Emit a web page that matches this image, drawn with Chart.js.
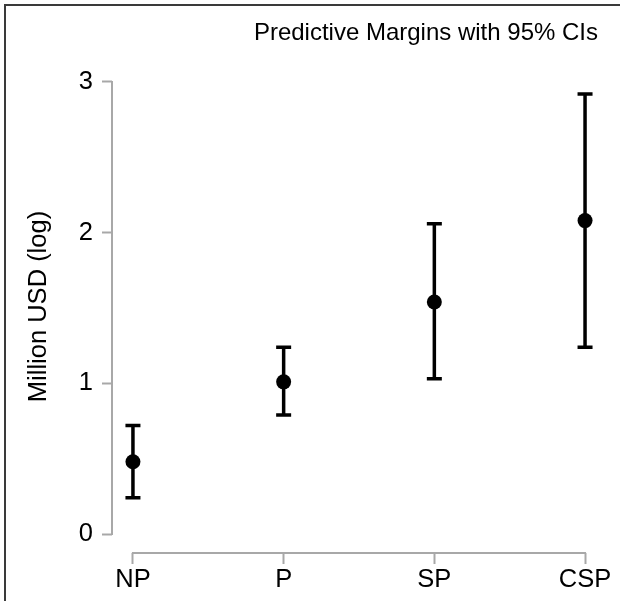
<!DOCTYPE html>
<html>
<head>
<meta charset="utf-8">
<script src="https://cdn.jsdelivr.net/npm/chart.js@4/dist/chart.umd.min.js"></script>
<style>
  html, body { margin: 0; padding: 0; background: #fff; }
  #wrap { width: 620px; height: 601px; position: relative; }
</style>
</head>
<body>
<div id="wrap"><canvas id="chart"></canvas></div>
<script>
// Predictive margins (log million USD) with 95% confidence intervals
const categories = ["NP", "P", "SP", "CSP"]
const margins = [0.48, 1.01, 1.54, 2.08]
const ciLower = [0.24, 0.79, 1.03, 1.24]
const ciUpper = [0.72, 1.24, 2.06, 2.92]
const yTicks = [0, 1, 2, 3]

const FONT = "'Liberation Sans', Arial, sans-serif"
const AXIS_COLOR = "#a8a8a8"
const INK = "#000"
const CAP_HALF = 7.5

// Stata-style axis lines: only span the tick range, not the whole plot box.
const axisLinesPlugin = {
  id: "axisLines",
  beforeDatasetsDraw(chart) {
    const { ctx, chartArea, scales } = chart
    ctx.save()
    ctx.strokeStyle = AXIS_COLOR
    ctx.lineWidth = 2
    ctx.lineCap = "square"
    ctx.beginPath()
    ctx.moveTo(chartArea.left, scales.y.getPixelForValue(yTicks[0]))
    ctx.lineTo(chartArea.left, scales.y.getPixelForValue(yTicks[yTicks.length - 1]))
    ctx.moveTo(scales.x.getPixelForValue(0), chartArea.bottom)
    ctx.lineTo(scales.x.getPixelForValue(categories.length - 1), chartArea.bottom)
    ctx.stroke()
    ctx.restore()
  }
}

// Capped vertical CI bars, drawn under the point markers.
const errorBarsPlugin = {
  id: "errorBars",
  beforeDatasetsDraw(chart) {
    const { ctx, scales } = chart
    ctx.save()
    ctx.strokeStyle = INK
    ctx.lineWidth = 3.5
    categories.forEach((_, i) => {
      const px = scales.x.getPixelForValue(i)
      const lo = scales.y.getPixelForValue(ciLower[i])
      const hi = scales.y.getPixelForValue(ciUpper[i])
      ctx.beginPath()
      ctx.moveTo(px, lo)
      ctx.lineTo(px, hi)
      ctx.moveTo(px - CAP_HALF, lo)
      ctx.lineTo(px + CAP_HALF, lo)
      ctx.moveTo(px - CAP_HALF, hi)
      ctx.lineTo(px + CAP_HALF, hi)
      ctx.stroke()
    })
    ctx.restore()
  }
}

// Outer frame (left and top edges of the graph region)
const framePlugin = {
  id: "frame",
  beforeDraw(chart) {
    const { ctx, width, height } = chart
    ctx.save()
    ctx.fillStyle = "#fff"
    ctx.fillRect(0, 0, width, height)
    ctx.strokeStyle = "#3a3a3a"
    ctx.lineWidth = 2
    ctx.beginPath()
    ctx.moveTo(5, height)
    ctx.lineTo(5, 5)
    ctx.lineTo(width, 5)
    ctx.stroke()
    ctx.restore()
  }
}

const TICK_GRID = {
  display: true,
  drawOnChartArea: false,
  drawTicks: true,
  tickLength: 11,
  tickWidth: 2,
  tickColor: AXIS_COLOR
}

new Chart(document.getElementById("chart"), {
  type: "scatter",
  plugins: [framePlugin, axisLinesPlugin, errorBarsPlugin],
  data: {
    datasets: [{
      data: margins.map((m, i) => ({ x: i, y: m })),
      pointRadius: 7.5,
      pointHoverRadius: 7.5,
      pointBackgroundColor: INK,
      pointBorderWidth: 0,
      clip: false
    }]
  },
  options: {
    responsive: true,
    maintainAspectRatio: false,
    animation: false,
    layout: { padding: { left: 5, top: 5, right: 22, bottom: 0 } },
    plugins: {
      legend: { display: false },
      tooltip: { enabled: false },
      title: {
        display: true,
        text: "Predictive Margins with 95% CIs",
        align: "end",
        color: INK,
        font: { family: FONT, size: 24, weight: "normal", lineHeight: 1.2 },
        padding: { top: 13.6, bottom: 12.6 }
      }
    },
    scales: {
      x: {
        type: "linear",
        min: -0.139,
        max: 3.086,
        grid: { ...TICK_GRID },
        border: { display: false },
        afterBuildTicks: (axis) => { axis.ticks = categories.map((_, i) => ({ value: i })) },
        afterFit: (axis) => { axis.height = 48 },
        ticks: {
          color: INK,
          padding: 1,
          maxRotation: 0,
          autoSkip: false,
          font: { family: FONT, size: 25.5 },
          callback: (v) => categories[v]
        }
      },
      y: {
        min: -0.126,
        max: 3.146,
        grid: { ...TICK_GRID, tickLength: 10 },
        border: { display: false },
        afterBuildTicks: (axis) => { axis.ticks = yTicks.map((v) => ({ value: v })) },
        afterFit: (axis) => { axis.width = 107 },
        title: {
          display: true,
          text: "Million USD (log)",
          color: INK,
          font: { family: FONT, size: 25.5, lineHeight: 1.2 },
          padding: { top: 19, bottom: 0 }
        },
        ticks: {
          color: INK,
          padding: 9,
          font: { family: FONT, size: 25.5 },
          callback: (v) => String(v)
        }
      }
    }
  }
})
</script>
</body>
</html>
